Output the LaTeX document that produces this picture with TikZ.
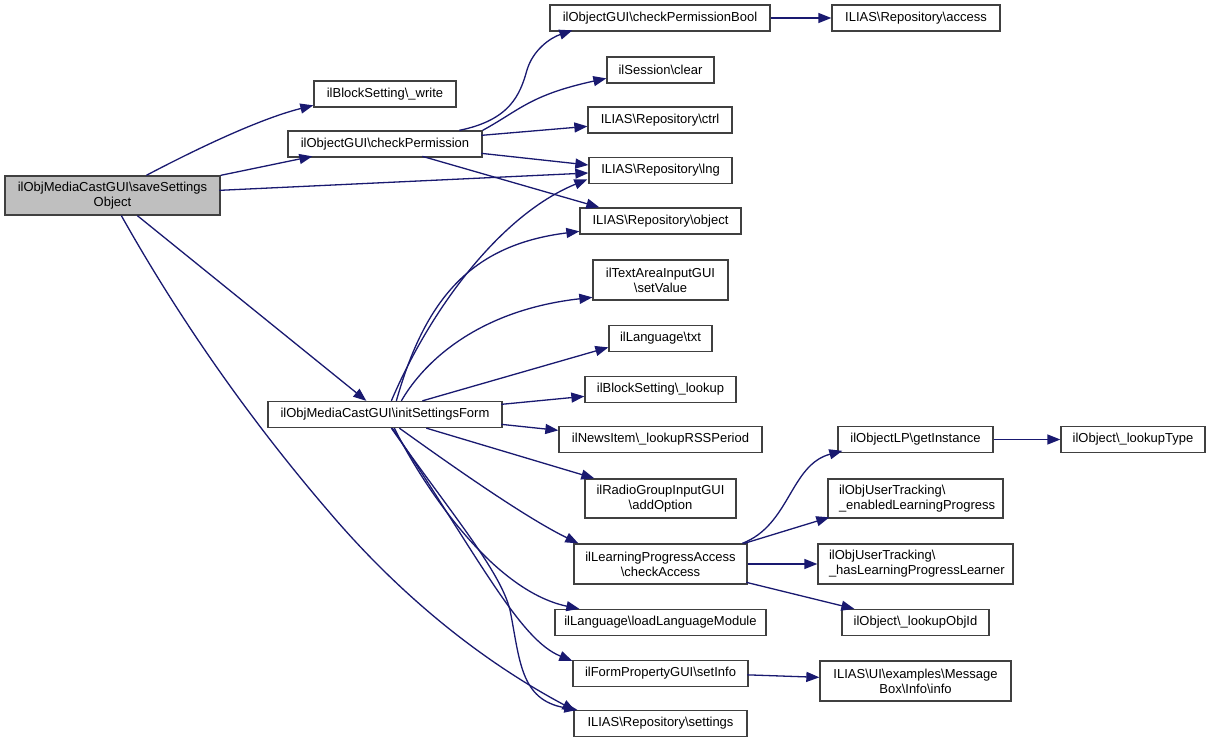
\documentclass[tikz,border=0pt]{standalone}
\usepackage{fontspec}
\setmainfont{Liberation Sans}
\usetikzlibrary{calc,arrows.meta}
\definecolor{edgeblue}{HTML}{191970}
\definecolor{boxgray}{HTML}{404040}
\definecolor{rootfill}{HTML}{BFBFBF}
\newcommand{\bs}{\textbackslash}
\tikzset{
  box/.style={draw=boxgray, line width=1.3pt, fill=white, inner sep=0pt, align=center,
    font=\fontsize{13}{15}\selectfont},
  rootbox/.style={box, fill=rootfill},
  lbox/.style={box, align=left},
  call/.style={draw=edgeblue, line width=1.3pt, -{Triangle[length=13pt,width=10pt]}},
}
\begin{document}
\begin{tikzpicture}[x=1pt,y=-1pt]
\useasboundingbox (0,0) rectangle (1211,743);
\fill[white] (0,0) rectangle (1211,743);

% nodes
\node[rootbox, minimum width=215pt, minimum height=39pt] (save) at (112.5,195.5) {ilObjMediaCastGUI\bs saveSettings\\Object};
\node[box, minimum width=142pt, minimum height=26pt] (write) at (385,94) {ilBlockSetting\bs\_write};
\node[box, minimum width=194pt, minimum height=26pt] (cp) at (385,144) {ilObjectGUI\bs checkPermission};
\node[box, minimum width=220pt, minimum height=26pt] (cpb) at (660,18) {ilObjectGUI\bs checkPermissionBool};
\node[box, minimum width=168pt, minimum height=26pt] (access) at (916,18) {ILIAS\bs Repository\bs access};
\node[box, minimum width=107pt, minimum height=26pt] (clear) at (660.5,70) {ilSession\bs clear};
\node[box, minimum width=144pt, minimum height=26pt] (ctrl) at (660,120) {ILIAS\bs Repository\bs ctrl};
\node[box, minimum width=143pt, minimum height=26pt] (lng) at (660.5,170.5) {ILIAS\bs Repository\bs lng};
\node[box, minimum width=161pt, minimum height=26pt] (object) at (660.5,221) {ILIAS\bs Repository\bs object};
\node[box, minimum width=135pt, minimum height=40pt] (setvalue) at (660.5,280) {ilTextAreaInputGUI\\\bs setValue};
\node[box, minimum width=103pt, minimum height=26pt] (txt) at (660.5,338.5) {ilLanguage\bs txt};
\node[box, minimum width=151pt, minimum height=26pt] (lookup) at (660.5,389.5) {ilBlockSetting\bs\_lookup};
\node[box, minimum width=234pt, minimum height=26pt] (isf) at (385,414.5) {ilObjMediaCastGUI\bs initSettingsForm};
\node[box, minimum width=203pt, minimum height=26pt] (rss) at (660.5,439.5) {ilNewsItem\bs\_lookupRSSPeriod};
\node[box, minimum width=151pt, minimum height=39pt] (addopt) at (660.5,498.5) {ilRadioGroupInputGUI\\\bs addOption};
\node[box, minimum width=173pt, minimum height=40pt] (chk) at (660.5,564) {ilLearningProgressAccess\\\bs checkAccess};
\node[box, minimum width=211pt, minimum height=26pt] (loadlm) at (660.5,622.5) {ilLanguage\bs loadLanguageModule};
\node[box, minimum width=175pt, minimum height=26pt] (setinfo) at (660.5,673.5) {ilFormPropertyGUI\bs setInfo};
\node[box, minimum width=173pt, minimum height=26pt] (settings) at (660.5,723.5) {ILIAS\bs Repository\bs settings};
\node[box, minimum width=155pt, minimum height=26pt] (getinst) at (915.5,439.5) {ilObjectLP\bs getInstance};
\node[box, minimum width=144pt, minimum height=26pt] (ltype) at (1133,439.5) {ilObject\bs\_lookupType};
\node[lbox, minimum width=175pt, minimum height=39pt, text width=153pt] (enlp) at (915.5,498.5) {ilObjUserTracking\bs\\\_enabledLearningProgress};
\node[lbox, minimum width=195pt, minimum height=40pt, text width=173pt] (haslp) at (915.5,564) {ilObjUserTracking\bs\\\_hasLearningProgressLearner};
\node[box, minimum width=147pt, minimum height=26pt] (lobjid) at (915.5,622.5) {ilObject\bs\_lookupObjId};
\node[box, minimum width=191pt, minimum height=40pt] (info) at (915.5,681) {ILIAS\bs UI\bs examples\bs Message\\Box\bs Info\bs info};

% edges from saveSettingsObject
\draw[call] ($(save.north west)+(142,0)$) .. controls (185,155) and (255,120) .. ($(write.north west)+(0,25)$);
\draw[call] (save.north east) -- ($(cp.north west)+(25,26)$);
\draw[call] ($(save.north west)+(215,15)$) -- ($(lng.west)+(0,2.5)$);
\draw[call] ($(save.south west)+(133,0)$) -- ($(isf.north west)+(99,0)$);
\draw[call] ($(save.south west)+(117,0)$) .. controls (180,320) and (250,420) .. (330,513)
  .. controls (400,595) and (480,660) .. ($(settings.north west)+(2,1)$);

% edges from checkPermission
\draw[call] ($(cp.north west)+(172,0)$) .. controls (510,120) and (520,95) .. (527,70)
  .. controls (533,50) and (550,38) .. ($(cpb.north west)+(23,26)$);
\draw[call] (cp.north east) .. controls (520,110) and (530,95) .. ($(clear.north west)+(0,22)$);
\draw[call] ($(cp.north west)+(194,5)$) -- ($(ctrl.north west)+(0,20)$);
\draw[call] ($(cp.north west)+(194,23)$) -- ($(lng.west)+(0,-5.5)$);
\draw[call] ($(cp.north west)+(135,26)$) -- ($(object.north west)+(20,0)$);
\draw[call] (cpb.east) -- (access.west);

% edges from initSettingsForm
\draw[call] ($(isf.north west)+(124,0)$) .. controls (430,310) and (500,215) .. ($(lng.north west)+(-1,22.5)$);
\draw[call] ($(isf.north west)+(129,0)$) .. controls (425,300) and (470,245) .. ($(object.north west)+(0,24)$);
\draw[call] ($(isf.north west)+(134,0)$) .. controls (425,360) and (480,310) .. ($(setvalue.north west)+(0,38)$);
\draw[call] ($(isf.north west)+(155,0)$) -- ($(txt.north west)+(0,22.5)$);
\draw[call] ($(isf.north west)+(234,3.5)$) -- ($(lookup.north west)+(0,20.5)$);
\draw[call] ($(isf.north west)+(234,23.5)$) -- ($(rss.north west)+(0,4.5)$);
\draw[call] ($(isf.south west)+(159,0)$) -- ($(addopt.north west)+(10,0)$);
\draw[call] ($(isf.south west)+(132,0)$) .. controls (430,450) and (520,515) .. ($(chk.north west)+(5,0)$);
\draw[call] ($(isf.south west)+(127,0)$) .. controls (420,480) and (490,590) .. ($(loadlm.north west)+(25,0)$);
\draw[call] ($(isf.south west)+(125,0)$) .. controls (480,560) and (520,640) .. ($(setinfo.north west)+(0,1)$);
\draw[call] ($(isf.south west)+(124,0)$) .. controls (450,512) and (500,570) .. (510,610)
  .. controls (520,660) and (520,700) .. ($(settings.north west)+(4,0)$);

% edges from checkAccess
\draw[call] ($(chk.north west)+(169,0)$) .. controls (790,525) and (790,465) .. ($(getinst.north west)+(5,25)$);
\draw[call] ($(chk.north west)+(171,0)$) -- ($(enlp.north west)+(2,39)$);
\draw[call] (chk.east) -- (haslp.west);
\draw[call] ($(chk.north west)+(173,39)$) -- ($(lobjid.north west)+(13,0)$);

\draw[call] (getinst.east) -- (ltype.west);
\draw[call] ($(setinfo.north west)+(175,15)$) -- ($(info.north west)+(0,17)$);
\end{tikzpicture}
\end{document}
